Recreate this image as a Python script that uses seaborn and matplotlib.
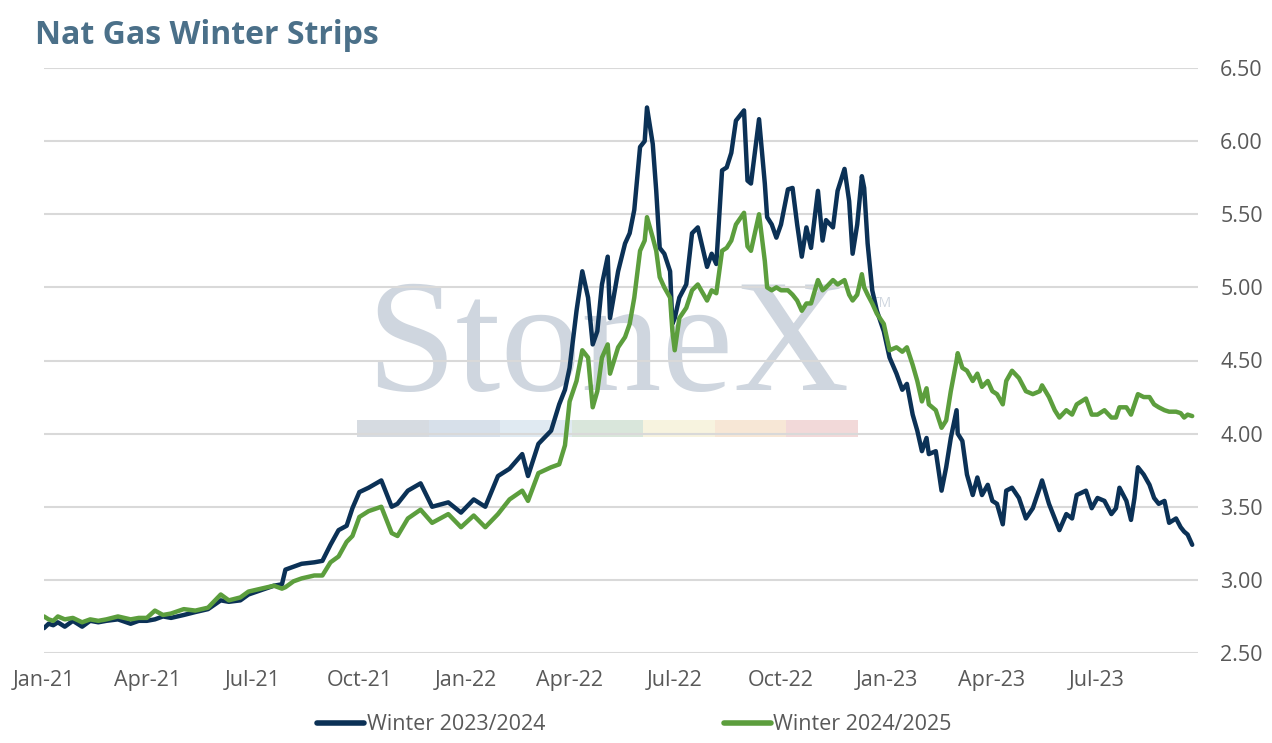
import pandas as pd
import matplotlib
matplotlib.use("Agg")
import matplotlib.pyplot as plt
import matplotlib.dates as mdates
from matplotlib.patches import Rectangle
import seaborn as sns

# --- data ---
dates = [
    "2021-01-01", "2021-01-05", "2021-01-09", "2021-01-13", "2021-01-19", "2021-01-26",
    "2021-02-03", "2021-02-10", "2021-02-17", "2021-02-24", "2021-03-06", "2021-03-17",
    "2021-03-24", "2021-03-31", "2021-04-07", "2021-04-14", "2021-04-21", "2021-05-02",
    "2021-05-12", "2021-05-23", "2021-06-03", "2021-06-10", "2021-06-20", "2021-06-27",
    "2021-07-08", "2021-07-19", "2021-07-26", "2021-07-29", "2021-08-05", "2021-08-12",
    "2021-08-23", "2021-08-30", "2021-09-06", "2021-09-13", "2021-09-20", "2021-09-25",
    "2021-10-01", "2021-10-09", "2021-10-20", "2021-10-29", "2021-11-03", "2021-11-12",
    "2021-11-23", "2021-12-03", "2021-12-17", "2021-12-28", "2022-01-08", "2022-01-18",
    "2022-01-29", "2022-02-08", "2022-02-19", "2022-02-24", "2022-03-05", "2022-03-16",
    "2022-03-23", "2022-03-28", "2022-04-01", "2022-04-07", "2022-04-12", "2022-04-17",
    "2022-04-21", "2022-04-25", "2022-04-29", "2022-05-04", "2022-05-06", "2022-05-13",
    "2022-05-19", "2022-05-23", "2022-05-27", "2022-06-01", "2022-06-05", "2022-06-07",
    "2022-06-12", "2022-06-15", "2022-06-18", "2022-06-22", "2022-06-27", "2022-06-29",
    "2022-07-01", "2022-07-05", "2022-07-11", "2022-07-16", "2022-07-21", "2022-07-29",
    "2022-08-02", "2022-08-06", "2022-08-11", "2022-08-15", "2022-08-19", "2022-08-23",
    "2022-08-30", "2022-09-02", "2022-09-05", "2022-09-12", "2022-09-17", "2022-09-19",
    "2022-09-23", "2022-09-27", "2022-10-01", "2022-10-07", "2022-10-11", "2022-10-15",
    "2022-10-19", "2022-10-23", "2022-10-27", "2022-11-02", "2022-11-06", "2022-11-09",
    "2022-11-15", "2022-11-19", "2022-11-25", "2022-11-29", "2022-12-02", "2022-12-06",
    "2022-12-10", "2022-12-12", "2022-12-15", "2022-12-19", "2022-12-23", "2022-12-29",
    "2023-01-03", "2023-01-09", "2023-01-14", "2023-01-18", "2023-01-23", "2023-01-27",
    "2023-01-31", "2023-02-04", "2023-02-06", "2023-02-12", "2023-02-17", "2023-02-21",
    "2023-02-25", "2023-03-02", "2023-03-03", "2023-03-07", "2023-03-11", "2023-03-16",
    "2023-03-20", "2023-03-24", "2023-03-29", "2023-04-02", "2023-04-06", "2023-04-11",
    "2023-04-14", "2023-04-19", "2023-04-25", "2023-05-01", "2023-05-07", "2023-05-13",
    "2023-05-15", "2023-05-21", "2023-05-26", "2023-05-30", "2023-06-05", "2023-06-10",
    "2023-06-14", "2023-06-22", "2023-06-27", "2023-07-02", "2023-07-08", "2023-07-14",
    "2023-07-18", "2023-07-21", "2023-07-27", "2023-07-31", "2023-08-03", "2023-08-06",
    "2023-08-11", "2023-08-16", "2023-08-20", "2023-08-24", "2023-08-29", "2023-09-02",
    "2023-09-08", "2023-09-12", "2023-09-15", "2023-09-18", "2023-09-22",
]

winter_2324 = [
    2.67, 2.70, 2.69, 2.71, 2.68, 2.72,
    2.68, 2.72, 2.71, 2.72, 2.73, 2.70,
    2.72, 2.72, 2.73, 2.75, 2.74, 2.76,
    2.78, 2.80, 2.86, 2.85, 2.86, 2.90,
    2.93, 2.96, 2.97, 3.07, 3.09, 3.11,
    3.12, 3.13, 3.24, 3.34, 3.37, 3.49,
    3.60, 3.63, 3.68, 3.50, 3.52, 3.61,
    3.66, 3.50, 3.53, 3.46, 3.55, 3.50,
    3.71, 3.76, 3.86, 3.71, 3.93, 4.02,
    4.20, 4.30, 4.45, 4.84, 5.11, 4.93,
    4.61, 4.70, 5.02, 5.21, 4.79, 5.11,
    5.30, 5.37, 5.53, 5.96, 6.00, 6.23,
    5.98, 5.66, 5.27, 5.23, 5.11, 4.75,
    4.79, 4.93, 5.02, 5.37, 5.41, 5.14,
    5.23, 5.16, 5.80, 5.82, 5.92, 6.14,
    6.21, 5.73, 5.71, 6.15, 5.71, 5.48,
    5.43, 5.34, 5.43, 5.67, 5.68, 5.43,
    5.21, 5.41, 5.27, 5.66, 5.32, 5.46,
    5.41, 5.66, 5.81, 5.59, 5.23, 5.43,
    5.76, 5.68, 5.30, 4.98, 4.84, 4.70,
    4.52, 4.41, 4.30, 4.34, 4.13, 4.02,
    3.88, 3.97, 3.86, 3.88, 3.61, 3.77,
    3.97, 4.16, 4.00, 3.95, 3.72, 3.58,
    3.70, 3.58, 3.65, 3.54, 3.52, 3.38,
    3.61, 3.63, 3.56, 3.42, 3.49, 3.63,
    3.68, 3.52, 3.42, 3.34, 3.45, 3.42,
    3.58, 3.61, 3.49, 3.56, 3.54, 3.45,
    3.49, 3.63, 3.54, 3.41, 3.56, 3.77,
    3.72, 3.65, 3.56, 3.52, 3.54, 3.39,
    3.42, 3.36, 3.33, 3.31, 3.24,
]

winter_2425 = [
    2.75, 2.73, 2.72, 2.75, 2.73, 2.74,
    2.71, 2.73, 2.72, 2.73, 2.75, 2.73,
    2.74, 2.74, 2.79, 2.76, 2.77, 2.80,
    2.79, 2.81, 2.90, 2.86, 2.88, 2.92,
    2.94, 2.96, 2.94, 2.95, 2.99, 3.01,
    3.03, 3.03, 3.12, 3.16, 3.26, 3.30,
    3.43, 3.47, 3.50, 3.32, 3.30, 3.42,
    3.48, 3.39, 3.45, 3.36, 3.44, 3.36,
    3.45, 3.55, 3.61, 3.54, 3.73, 3.77,
    3.79, 3.92, 4.22, 4.36, 4.57, 4.52,
    4.18, 4.29, 4.52, 4.61, 4.41, 4.59,
    4.66, 4.75, 4.93, 5.25, 5.32, 5.48,
    5.34, 5.25, 5.07, 5.00, 4.93, 4.70,
    4.57, 4.79, 4.86, 4.98, 5.02, 4.91,
    4.98, 4.96, 5.25, 5.27, 5.32, 5.43,
    5.51, 5.28, 5.25, 5.50, 5.18, 5.00,
    4.98, 5.00, 4.98, 4.98, 4.95, 4.91,
    4.84, 4.89, 4.89, 5.05, 4.98, 5.00,
    5.05, 5.02, 5.05, 4.95, 4.91, 4.95,
    5.09, 5.00, 4.95, 4.89, 4.82, 4.75,
    4.57, 4.59, 4.56, 4.59, 4.47, 4.36,
    4.22, 4.31, 4.20, 4.16, 4.04, 4.09,
    4.29, 4.50, 4.55, 4.45, 4.43, 4.36,
    4.41, 4.32, 4.36, 4.29, 4.27, 4.20,
    4.36, 4.43, 4.38, 4.29, 4.27, 4.29,
    4.33, 4.25, 4.16, 4.11, 4.16, 4.13,
    4.20, 4.24, 4.13, 4.13, 4.16, 4.11,
    4.11, 4.18, 4.18, 4.13, 4.20, 4.27,
    4.25, 4.25, 4.20, 4.18, 4.16, 4.15,
    4.15, 4.14, 4.11, 4.13, 4.12,
]

series_names = ["Winter 2023/2024", "Winter 2024/2025"]
series_colors = ["#0b3156", "#5c9e3d"]
y_ticks = [2.5, 3.0, 3.5, 4.0, 4.5, 5.0, 5.5, 6.0, 6.5]

df = pd.DataFrame({
    "Date": pd.to_datetime(dates * 2),
    "Price": winter_2324 + winter_2425,
    "Series": [series_names[0]] * len(dates) + [series_names[1]] * len(dates),
})

# --- style ---
sns.set_theme(style="white")
plt.rcParams["font.family"] = ["Open Sans", "DejaVu Sans"]
text_grey = "#595959"

fig = plt.figure(figsize=(12.72, 7.43), dpi=100)
ax = fig.add_axes([44 / 1272, 1 - 653 / 743, (1198 - 44) / 1272, (653 - 68) / 743])

# StoneX watermark behind the data
fig.text(608 / 1272, 1 - 390 / 743, "StoneX", family="Liberation Serif",
         fontsize=116, color="#cfd6df", ha="center", va="baseline", zorder=0)
fig.text(872 / 1272, 1 - 303 / 743, "TM", fontsize=10, color="#cfd6df",
         ha="left", va="center", zorder=0)
band_colors = ["#d2d8de", "#d3dde8", "#dde8f1", "#d5e4d7", "#f7f2dc", "#f7e5d2", "#f1d5d5"]
band_w = (858 - 357) / 7
for i, c in enumerate(band_colors):
    fig.add_artist(Rectangle(((357 + i * band_w) / 1272, 1 - 437 / 743), band_w / 1272, 17 / 743,
                             transform=fig.transFigure, facecolor=c, edgecolor="none",
                             alpha=0.9, zorder=0))
ax.set_facecolor("none")
ax.set_zorder(1)

sns.lineplot(data=df, x="Date", y="Price", hue="Series", palette=series_colors,
             linewidth=3.2, ax=ax, legend=True)

# axes
ax.set_xlim(pd.Timestamp("2021-01-01"), pd.Timestamp("2023-09-27"))
ax.set_ylim(2.5, 6.5)
ax.set_yticks(y_ticks)
ax.yaxis.set_major_formatter(plt.FuncFormatter(lambda v, p: f"{v:.2f}"))
ax.yaxis.tick_right()
ax.xaxis.set_major_locator(mdates.MonthLocator(bymonth=[1, 4, 7, 10]))
ax.xaxis.set_major_formatter(mdates.DateFormatter("%b-%y"))
ax.tick_params(axis="both", length=0, labelsize=15.5, labelcolor=text_grey, pad=12)
ax.tick_params(axis="y", pad=16)
ax.grid(axis="y", color="#d9d9d9", linewidth=1.5)
ax.set_axisbelow(True)
for s in ax.spines.values():
    s.set_visible(False)
ax.set_xlabel("")
ax.set_ylabel("")

leg = ax.legend(loc="upper center", bbox_to_anchor=(0.5115, -0.072), ncol=2, frameon=False,
                fontsize=15.5, handlelength=2.2, handletextpad=0.1, columnspacing=8.3)
for t in leg.get_texts():
    t.set_color(text_grey)
for h in leg.legend_handles:
    h.set_linewidth(4)

fig.text(35 / 1272, 1 - 35 / 743, "Nat Gas Winter Strips", fontsize=23, fontweight="bold",
         color="#4b7089", ha="left", va="center")

fig.savefig("out.png", dpi=100)
